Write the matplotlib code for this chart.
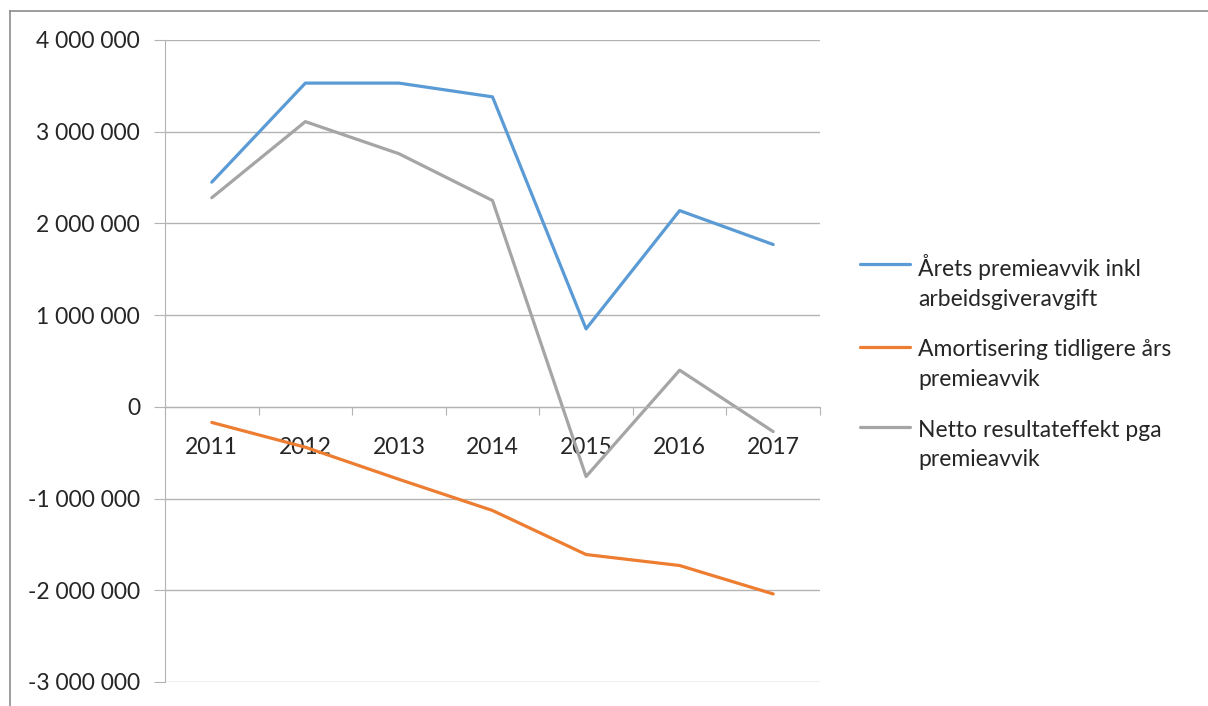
import matplotlib.pyplot as plt
from matplotlib.lines import Line2D
from matplotlib.legend_handler import HandlerLine2D
from matplotlib.ticker import FuncFormatter, FixedLocator

plt.rcParams['font.family'] = ['Lato', 'DejaVu Sans']

years = ['2011', '2012', '2013', '2014', '2015', '2016', '2017']
arets = [2450000, 3530000, 3530000, 3380000, 850000, 2140000, 1770000]
amort = [-170000, -440000, -790000, -1130000, -1610000, -1730000, -2040000]
netto = [2280000, 3110000, 2760000, 2250000, -760000, 400000, -270000]
labels = ['Årets premieavvik inkl\narbeidsgiveravgift',
          'Amortisering tidligere års\npremieavvik',
          'Netto resultateffekt pga\npremieavvik']
colors = ['#5B9BD5', '#ED7D31', '#A5A5A5']


class TopLine(HandlerLine2D):
    # put the legend line level with the first text line, like Excel does
    def create_artists(self, legend, orig_handle, xdescent, ydescent, width, height, fontsize, trans):
        arts = super().create_artists(legend, orig_handle, xdescent, ydescent, width, height, fontsize, trans)
        for a in arts:
            a.set_ydata([y + 0.8 * fontsize for y in a.get_ydata()])
        return arts


fig = plt.figure(figsize=(12.08, 7.06), dpi=100)
ax = fig.add_axes([165/1208, 1-682/706, 655/1208, 642/706])

x = list(range(len(years)))
for s, lab, c in zip([arets, amort, netto], labels, colors):
    ax.plot(x, s, color=c, lw=2.3, label=lab, solid_capstyle='round')

ax.set_xlim(-0.5, len(years) - 0.5)
ax.set_ylim(-3000000, 4000000)
ax.set_yticks(range(-3000000, 4000001, 1000000))
ax.yaxis.set_major_formatter(FuncFormatter(lambda v, p: f'{int(v):,}'.replace(',', ' ')))
ax.grid(axis='y', color='#b3b3b3', lw=1)
ax.set_axisbelow(True)

for sp in ['top', 'right']:
    ax.spines[sp].set_visible(False)
ax.spines['left'].set_color('#b3b3b3')
ax.spines['bottom'].set_position(('data', 0))
ax.spines['bottom'].set_color('#b3b3b3')

ax.xaxis.set_major_locator(FixedLocator([i - 0.5 for i in range(len(years) + 1)]))
ax.xaxis.set_major_formatter(FuncFormatter(lambda v, p: ''))
ax.xaxis.set_minor_locator(FixedLocator(x))
ax.set_xticklabels(years, minor=True)
ax.tick_params(axis='x', which='major', length=6, color='#b3b3b3', direction='out')
ax.tick_params(axis='x', which='minor', length=0, labelsize=16.5, pad=22, labelcolor='#262626')
ax.tick_params(axis='y', length=8, color='#b3b3b3', labelsize=16.5, pad=10, labelcolor='#262626')

leg = ax.legend(loc='upper left', bbox_to_anchor=(860/1208, 1-254/706), bbox_transform=fig.transFigure,
                frameon=False, fontsize=16.5, handlelength=2.2, handletextpad=0.35, labelspacing=1.3,
                borderpad=0, borderaxespad=0, labelcolor='#262626',
                handler_map={Line2D: TopLine()})
for t in leg.get_texts():
    t.set_linespacing(1.5)

# outer chart frame
fig.add_artist(Line2D([10/1208, 10/1208], [0, 1-11/706], color='#8c8c8c', lw=1.2))
fig.add_artist(Line2D([10/1208, 1], [1-11/706, 1-11/706], color='#8c8c8c', lw=1.2))

fig.savefig('out.png', dpi=100)
